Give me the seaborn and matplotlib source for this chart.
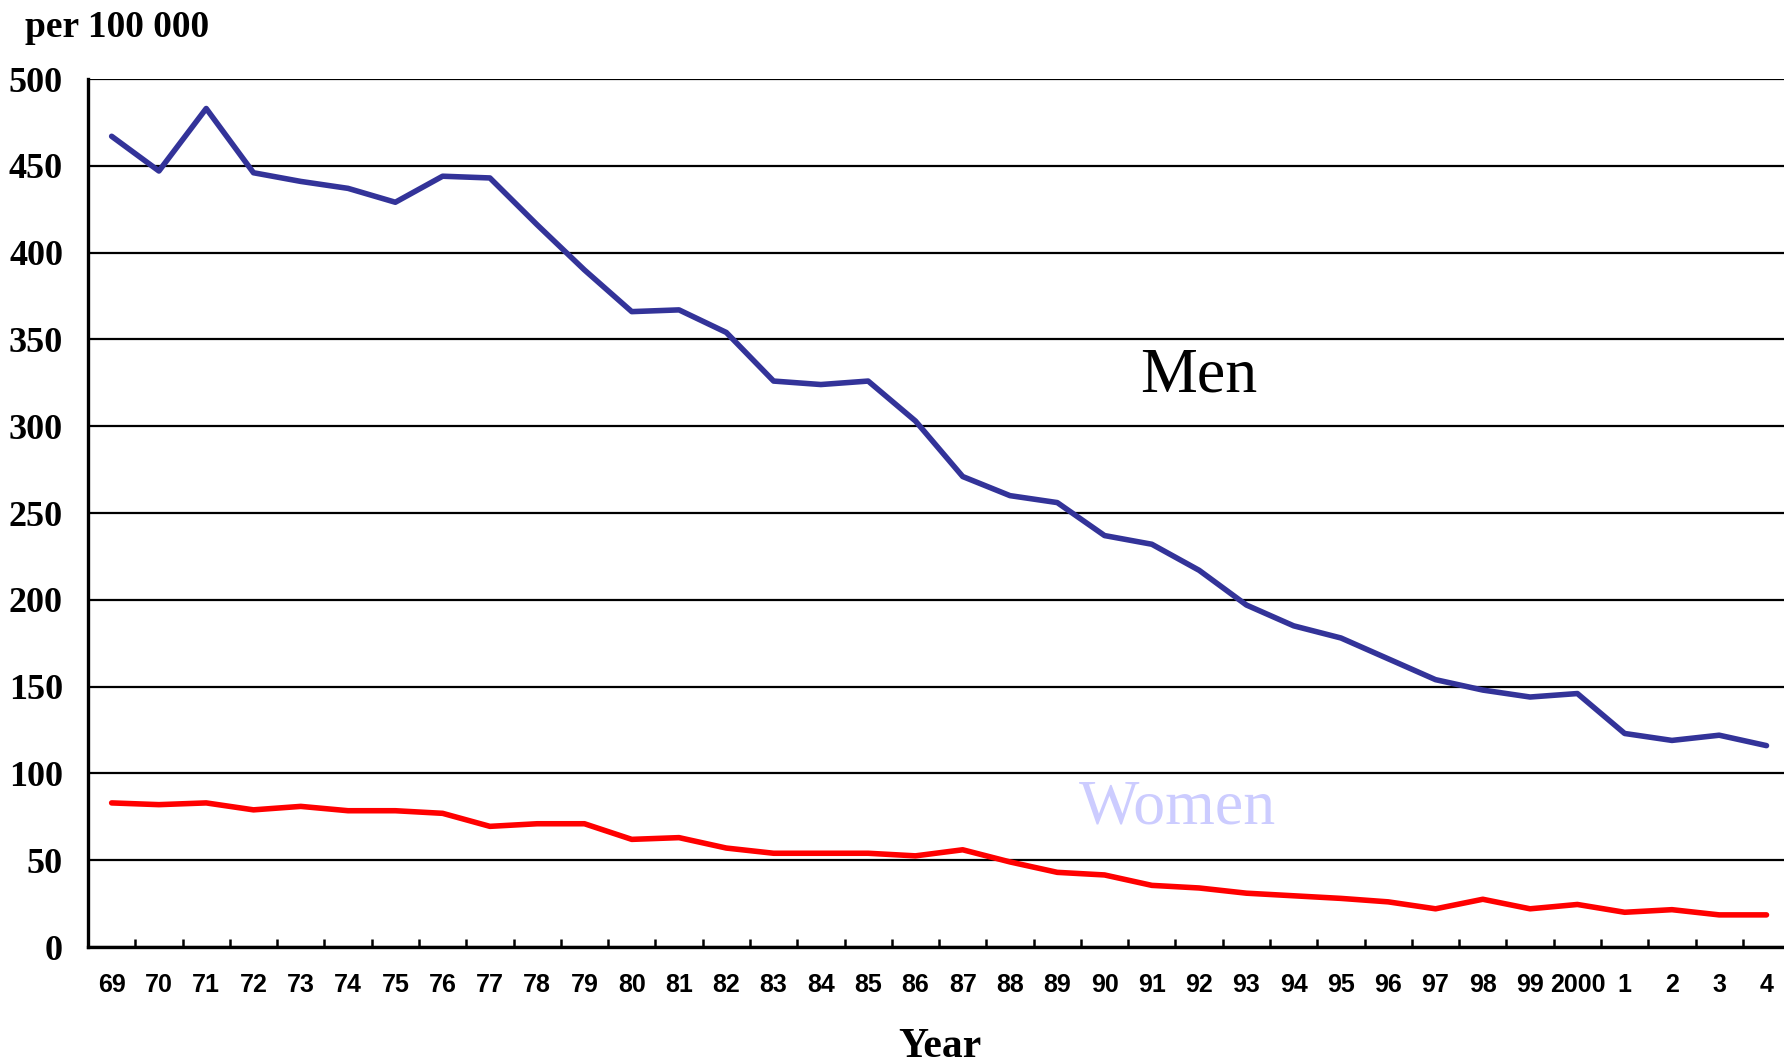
import pandas as pd
import matplotlib.pyplot as plt
import seaborn as sns

# Years shown on the axis (1969-2004, short labels as in the source)
year_labels = ['69', '70', '71', '72', '73', '74', '75', '76', '77', '78', '79',
               '80', '81', '82', '83', '84', '85', '86', '87', '88', '89', '90',
               '91', '92', '93', '94', '95', '96', '97', '98', '99', '2000',
               '1', '2', '3', '4']

men = [467, 447, 483, 446, 441, 437, 429, 444, 443, 416, 390,
       366, 367, 354, 326, 324, 326, 303, 271, 260, 256, 237,
       232, 217, 197, 185, 178, 166, 154, 148, 144, 146,
       123, 119, 122, 116]

women = [83, 82, 83, 79, 81, 78.5, 78.5, 77, 69.5, 71, 71,
         62, 63, 57, 54, 54, 54, 52.5, 56, 49, 43, 41.5,
         35.5, 34, 31, 29.5, 28, 26, 22, 27.5, 22, 24.5,
         20, 21.5, 18.5, 18.5]

y_ticks = [0, 50, 100, 150, 200, 250, 300, 350, 400, 450, 500]

pos = list(range(len(year_labels)))
df = pd.concat([
    pd.DataFrame({'pos': pos, 'rate': men, 'sex': 'Men'}),
    pd.DataFrame({'pos': pos, 'rate': women, 'sex': 'Women'}),
])

sns.set_style('white')
plt.rcParams['font.family'] = ['Liberation Serif', 'DejaVu Serif']
plt.rcParams['text.color'] = 'black'
plt.rcParams['xtick.color'] = 'black'
plt.rcParams['ytick.color'] = 'black'

fig = plt.figure(figsize=(17.84, 10.63), dpi=100)
ax = fig.add_axes([88 / 1784, 1 - 947 / 1063, 1 - 88 / 1784, (947 - 79) / 1063])

sns.lineplot(data=df, x='pos', y='rate', hue='sex',
             palette={'Men': '#333399', 'Women': '#ff0000'},
             linewidth=4.0, legend=False, ax=ax, clip_on=False)

ax.set_xlim(-0.5, 35.37)
ax.set_ylim(0, 500)

# horizontal gridlines
ax.set_yticks(y_ticks)
ax.yaxis.grid(True, color='black', linewidth=1.6)
ax.set_axisbelow(True)
ax.set_yticklabels([str(v) for v in y_ticks], fontsize=26, fontweight='bold')
ax.tick_params(axis='y', length=0, pad=18, labelcolor='black')

# category labels at centres, tick marks between categories
ax.set_xticks(pos)
ax.set_xticklabels(year_labels, fontsize=18, fontweight='bold',
                   family=['Liberation Sans', 'DejaVu Sans'])
ax.set_xticks([p + 0.5 for p in pos[:-1]], minor=True)
ax.tick_params(axis='x', which='major', length=0, pad=19, labelcolor='black')
ax.tick_params(axis='x', which='minor', direction='in', length=6,
               width=1.8, color='black', bottom=True)

for side in ['top', 'right']:
    ax.spines[side].set_visible(False)
for side in ['left', 'bottom']:
    ax.spines[side].set_color('black')
    ax.spines[side].set_linewidth(2.4)

ax.set_xlabel('')
ax.set_ylabel('')

ax.text(23.0, 320, 'Men', fontsize=46, color='black', ha='center', va='baseline')
ax.text(22.54, 71.4, 'Women', fontsize=46, color='#ccccff', ha='center', va='baseline')

fig.text(25 / 1784, 1 - 37 / 1063, 'per 100 000', fontsize=27, fontweight='bold',
         ha='left', va='baseline')
fig.text(940 / 1784, 1 - 1057 / 1063, 'Year', fontsize=30, fontweight='bold',
         ha='center', va='baseline')

fig.savefig('out.png', dpi=100)
